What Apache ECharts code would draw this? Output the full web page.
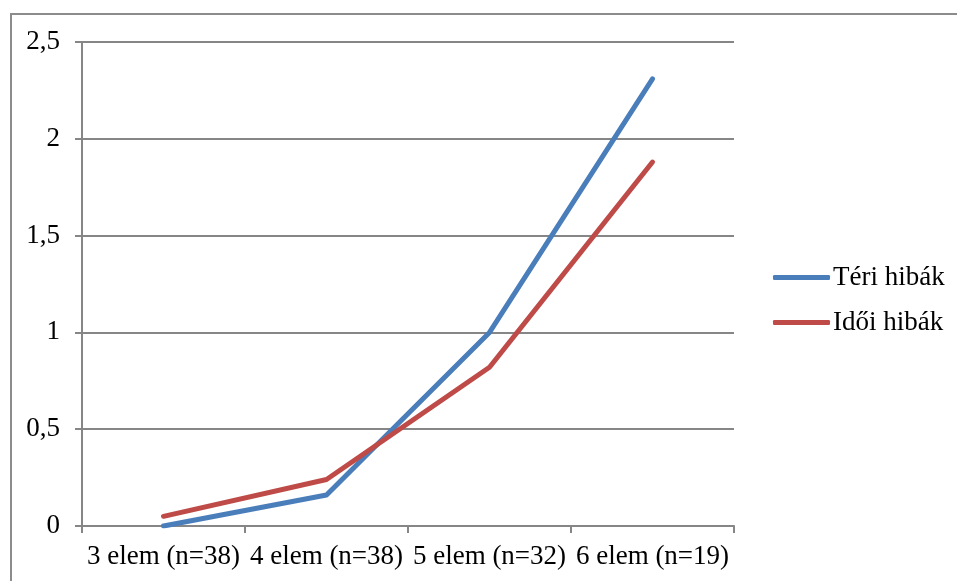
<!DOCTYPE html>
<html>
<head>
<meta charset="utf-8">
<script src="https://cdn.jsdelivr.net/npm/echarts@6/dist/echarts.min.js"></script>
<style>
  html, body { margin: 0; padding: 0; background: #fff; }
  #frame { position: absolute; left: 10px; top: 13px; width: 960px; height: 600px; border: 2px solid #8c8c8c; box-sizing: border-box; }
  #chart { position: absolute; left: 0; top: 0; width: 957px; height: 581px; }
</style>
</head>
<body>
<div id="frame"></div>
<div id="chart"></div>
<script>
// kategóriák és adatsorok
const categories = ['3 elem (n=38)', '4 elem (n=38)', '5 elem (n=32)', '6 elem (n=19)'];
const teriHibak = [0, 0.16, 1.0, 2.31];
const idoiHibak = [0.05, 0.24, 0.82, 1.88];
const seriesNames = ['Téri hibák', 'Idői hibák'];

const font = 'Liberation Serif, Times New Roman, serif';
const chart = echarts.init(document.getElementById('chart'));

chart.setOption({
  animation: false,
  color: ['#4a7ebb', '#be4b48'],
  grid: { left: 82, right: 223, top: 42, bottom: 55, containLabel: false },
  legend: {
    orient: 'vertical',
    left: 773,
    top: 264,
    padding: 0,
    itemWidth: 57,
    itemHeight: 5,
    itemGap: 18,
    icon: 'roundRect',
    textStyle: { fontFamily: font, fontSize: 27, color: '#000', padding: [0, 0, 0, -2] },
    data: seriesNames
  },
  xAxis: {
    type: 'category',
    data: categories,
    boundaryGap: true,
    axisLine: { lineStyle: { color: '#868686', width: 2 } },
    axisTick: { show: true, interval: 0, length: 7, lineStyle: { color: '#868686', width: 2 } },
    axisLabel: { interval: 0, hideOverlap: false, fontFamily: font, fontSize: 27, color: '#000', margin: 17 },
    splitLine: { show: false }
  },
  yAxis: {
    type: 'value',
    min: 0,
    max: 2.5,
    interval: 0.5,
    axisLine: { show: true, lineStyle: { color: '#868686', width: 2 } },
    axisTick: { show: true, length: 7, lineStyle: { color: '#868686', width: 2 } },
    axisLabel: {
      fontFamily: font, fontSize: 27, color: '#000', margin: 22,
      formatter: v => String(v).replace('.', ',')
    },
    splitLine: { show: true, lineStyle: { color: '#868686', width: 2 } }
  },
  series: [
    {
      name: seriesNames[0],
      type: 'line',
      data: teriHibak,
      symbol: 'none',
      lineStyle: { width: 5, cap: 'round', join: 'round' }
    },
    {
      name: seriesNames[1],
      type: 'line',
      data: idoiHibak,
      symbol: 'none',
      lineStyle: { width: 5, cap: 'round', join: 'round' }
    }
  ]
});
</script>
</body>
</html>
